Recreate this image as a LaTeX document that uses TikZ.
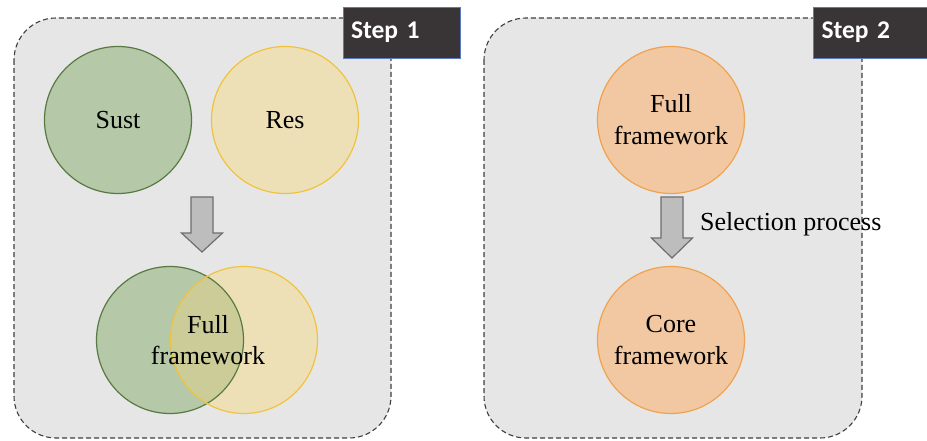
\documentclass[tikz,border=0pt]{standalone}
\usepackage{fontspec}
\setmainfont{Liberation Serif}
\newfontfamily\stepfont{Carlito}
\usetikzlibrary{positioning,calc}
\definecolor{panelfill}{HTML}{E6E6E6}
\definecolor{sustfill}{HTML}{B5C8A8}
\definecolor{sustline}{HTML}{587A42}
\definecolor{resfill}{HTML}{EEE0B6}
\definecolor{resline}{HTML}{F0C23E}
\definecolor{overlapfill}{HTML}{CBCC98}
\definecolor{orfill}{HTML}{F2C8A2}
\definecolor{orline}{HTML}{F0A24E}
\definecolor{tagfill}{HTML}{393435}
\definecolor{tagline}{HTML}{5B7BC0}
\definecolor{arrowfill}{HTML}{BDBDBD}
\definecolor{arrowline}{HTML}{6E6E6E}
\tikzset{
  panel/.style={draw=black!75, fill=panelfill, dash pattern=on 5pt off 3pt, line width=1.1pt, rounded corners=42pt},
  circ/.style={circle, minimum size=147pt, inner sep=0pt, line width=1.2pt, align=center, font=\fontsize{26}{32}\selectfont},
  sust/.style={circ, draw=sustline, fill=sustfill},
  res/.style={circ, draw=resline, fill=resfill},
  orc/.style={circ, draw=orline, fill=orfill},
  tag/.style={draw=tagline, fill=tagfill, line width=0.8pt, text=white, text width=101pt, align=left, inner xsep=8pt, minimum height=51pt, inner ysep=0pt, font=\stepfont\bfseries\fontsize{25.5}{28}\selectfont},
  blockarrow/.style={draw=arrowline, fill=arrowfill, line width=1.2pt, line join=miter},
}
\begin{document}
\begin{tikzpicture}[x=1pt,y=-1pt]
\useasboundingbox (0,0) rectangle (927,441);
\fill[white] (0,0) rectangle (927,441);
% panels
\draw[panel] (14,18) rectangle (391,438);
\draw[panel] (484,18) rectangle (862,438);
% step tags
\node[tag] (tag1) at (401.5,32.5) {Step 1};
\node[tag] (tag2) at (872,32.5) {Step 2};
% step 1 circles
\node[sust] (sust) at (118,120) {Sust};
\node[res] (res) at (285,120) {Res};
% arrow 1
\coordinate (a1) at (202,197);
\draw[blockarrow] ($(a1)+(-11,0)$) -- ($(a1)+(11,0)$) -- ($(a1)+(11,36)$) -- ($(a1)+(20.5,36)$) -- ($(a1)+(0,55)$) -- ($(a1)+(-20.5,36)$) -- ($(a1)+(-11,36)$) -- cycle;
% venn
\node[sust, draw=none] (g2) at (170,340) {};
\node[res, draw=none] (y2) at (244,340) {};
\begin{scope}
  \clip (g2.center) circle (73.5pt);
  \fill[overlapfill] (y2.center) circle (73.5pt);
\end{scope}
\draw[sustline, line width=1.2pt] (g2.center) circle (73.5pt);
\draw[resline, line width=1.2pt] (y2.center) circle (73.5pt);
\node[align=center, font=\fontsize{26}{31}\selectfont] (full1) at (208,340) {Full\\framework};
% step 2 circles
\node[orc] (full2) at (671,120) {Full\\framework};
\node[orc] (core) at (671,340) {Core\\framework};
% arrow 2
\coordinate (a2) at (672,197);
\draw[blockarrow] ($(a2)+(-11,0)$) -- ($(a2)+(11,0)$) -- ($(a2)+(11,41)$) -- ($(a2)+(20.5,41)$) -- ($(a2)+(0,61)$) -- ($(a2)+(-20.5,41)$) -- ($(a2)+(-11,41)$) -- cycle;
\node[anchor=west, font=\fontsize{26}{31}\selectfont, inner sep=0pt] (sel) at (700,224) {Selection process};
\end{tikzpicture}
\end{document}
